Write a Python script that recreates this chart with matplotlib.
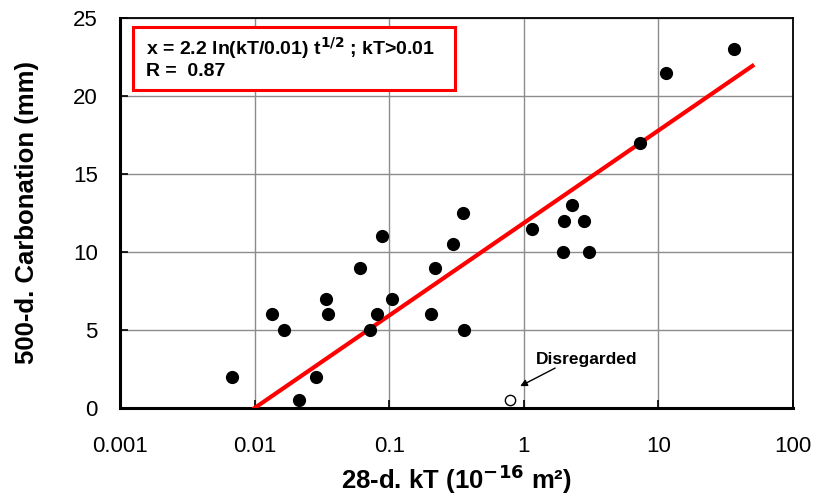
import numpy as np
import matplotlib
matplotlib.use('Agg')
import matplotlib.pyplot as plt
import matplotlib.ticker as ticker
from matplotlib.patches import Rectangle

plt.rcParams['font.family'] = ['Liberation Sans', 'DejaVu Sans']

# 28-d. kT (10^-16 m2) vs 500-d. carbonation depth (mm)
kt = [0.0068, 0.0135, 0.0166, 0.0214, 0.0286, 0.034, 0.035, 0.061, 0.072, 0.0815,
      0.088, 0.105, 0.205, 0.22, 0.30, 0.355, 0.36, 1.16, 1.97, 2.0, 2.3, 2.8, 3.07,
      7.35, 11.3, 36.7]
carb = [2, 6, 5, 0.5, 2, 7, 6, 9, 5, 6,
        11, 7, 6, 9, 10.5, 12.5, 5, 11.5, 10, 12, 13, 12, 10,
        17, 21.5, 23]
# disregarded point
kt_out = [0.79]
carb_out = [0.5]

coef = 2.2
kt_min = 0.01
t_years = 500 / 365.0
kt_fit = np.logspace(np.log10(kt_min), np.log10(50), 200)
x_fit = coef * np.log(kt_fit / kt_min) * np.sqrt(t_years)

fig = plt.figure(figsize=(8.18, 4.98), dpi=100)
ax = fig.add_axes([0.1467, 0.1807, 0.8227, 0.7832])

ax.set_xscale('log')
ax.set_xlim(0.001, 100)
ax.set_ylim(0, 25)
ax.grid(True, which='major', color='#8c8c8c', linewidth=1.0)
ax.set_axisbelow(True)

ax.plot(kt_fit, x_fit, color='#ff0000', linewidth=3, zorder=3)
ax.scatter(kt, carb, s=72, color='black', zorder=4)
ax.scatter(kt_out, carb_out, s=55, facecolor='white', edgecolor='black', linewidth=1, zorder=4)

ax.xaxis.set_major_locator(ticker.FixedLocator([0.001, 0.01, 0.1, 1, 10, 100]))
ax.xaxis.set_major_formatter(ticker.FixedFormatter(['0.001', '0.01', '0.1', '1', '10', '100']))
ax.xaxis.set_minor_locator(ticker.NullLocator())
ax.set_yticks([0, 5, 10, 15, 20, 25])
ax.tick_params(axis='both', direction='in', length=6, width=1.2, labelsize=16)
ax.tick_params(axis='x', pad=20)
ax.tick_params(axis='y', pad=16)

for side in ['left', 'bottom']:
    ax.spines[side].set_linewidth(2.2)
for side in ['top', 'right']:
    ax.spines[side].set_linewidth(1.3)

ax.set_xlabel('28-d. kT (10$^{\\mathbf{-16}}$ m²)', fontsize=18.5, fontweight='bold')
ax.set_ylabel('500-d. Carbonation (mm)', fontsize=18.5, fontweight='bold')
ax.xaxis.set_label_coords(0.5, -0.14)
ax.yaxis.set_label_coords(-0.12, 0.5)

# equation box
ax.add_patch(Rectangle((0.0193, 0.815), 0.4785, 0.162, transform=ax.transAxes,
                       facecolor='white', edgecolor='#ff0000', linewidth=2.2, zorder=5))
ax.text(0.0386, 0.923, 'x = 2.2 ln(kT/0.01) t$^{\\mathbf{1/2}}$ ; kT>0.01',
        transform=ax.transAxes, fontsize=14, fontweight='bold', va='center', ha='left', zorder=6)
ax.text(0.0386, 0.862, 'R =  0.87',
        transform=ax.transAxes, fontsize=14, fontweight='bold', va='center', ha='left', zorder=6)

ax.text(2.92, 3.14, 'Disregarded', fontsize=12.5, fontweight='bold', ha='center', va='center')
ax.annotate('', xy=(0.94, 1.4), xytext=(1.71, 2.56),
            arrowprops=dict(arrowstyle='-|>', color='black', linewidth=1.0, mutation_scale=10,
                            shrinkA=0, shrinkB=0))

fig.savefig('out.png', dpi=100)
